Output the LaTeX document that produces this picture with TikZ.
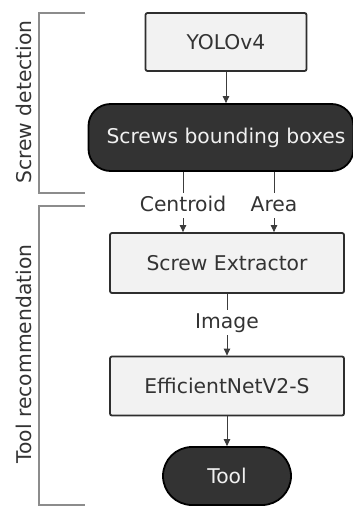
\documentclass[tikz,border=0pt]{standalone}
\usepackage{fontspec}
\setmainfont{DejaVu Sans}
\usetikzlibrary{arrows.meta}

\definecolor{boxfill}{HTML}{F2F2F2}
\definecolor{boxedge}{HTML}{2E2E2E}
\definecolor{darkfill}{HTML}{333333}
\definecolor{inktext}{HTML}{333333}
\definecolor{wiregray}{HTML}{3C3C3C}
\definecolor{bracegray}{HTML}{8C8C8C}

\begin{document}
\begin{tikzpicture}[x=1pt,y=-1pt,
  font=\fontsize{20.3}{24}\selectfont,
  lightbox/.style={draw=boxedge, line width=1.8pt, fill=boxfill, text=inktext,
    rounded corners=2pt, inner sep=0pt},
  darkbox/.style={draw=black, line width=1.8pt, fill=darkfill, text=white!94!black,
    inner sep=0pt},
  wirelabel/.style={text=inktext, text height=15pt, text depth=4pt,
    inner xsep=2pt, inner ysep=3pt, anchor=base},
  flow/.style={draw=wiregray, line width=1pt, -{Triangle[length=7pt,width=6.5pt]}},
  plainwire/.style={draw=wiregray, line width=1pt},
  brace/.style={draw=bracegray, line width=1.1pt},
  sidelabel/.style={rotate=90, text=inktext, inner sep=0pt}]

  \useasboundingbox (0,0) rectangle (353,506);

  % stage boxes
  \node[lightbox, minimum width=161pt, minimum height=58pt] (yolo) at (226,42) {YOLOv4};
  \node[darkbox, rounded corners=22pt, minimum width=265pt, minimum height=67pt]
    (bbox) at (221,137.5) {\hspace*{10pt}Screws bounding boxes};
  \node[lightbox, minimum width=234pt, minimum height=60pt] (extract) at (227,263) {Screw Extractor};
  \node[lightbox, minimum width=234pt, minimum height=59pt] (effnet) at (227,386) {EfficientNetV2-S};
  \node[darkbox, rounded corners=29pt, minimum width=128pt, minimum height=58pt] (tool) at (227,476) {Tool};

  % labels on the connectors
  \node[wirelabel] (centroid) at (183,211) {Centroid};
  \node[wirelabel] (area) at (274,211) {Area};
  \node[wirelabel] (image) at (227,328) {Image};

  % connectors
  \draw[flow] (yolo.south) -- (yolo.south |- bbox.north);
  \draw[plainwire] (centroid |- bbox.south) -- (centroid.north);
  \draw[plainwire] (area |- bbox.south) -- (area.north);
  \draw[flow] (centroid.south) -- (centroid.south |- extract.north);
  \draw[flow] (area.south) -- (area.south |- extract.north);
  \draw[plainwire] (extract.south) -- (image.north);
  \draw[flow] (image.south) -- (effnet.north);
  \draw[flow] (effnet.south) -- (tool.north);

  % stage brackets on the left
  \coordinate (detTop) at (85,13);
  \coordinate (detBot) at (85,193);
  \coordinate (recTop) at (85,206);
  \coordinate (recBot) at (85,505);
  \draw[brace] (detTop) -- ++(-46,0) |- (detBot);
  \draw[brace] (recTop) -- ++(-46,0) |- (recBot);

  \node[sidelabel] (detlabel) at (24,102) {Screw detection};
  \node[sidelabel] (reclabel) at (24,354) {Tool recommendation};
\end{tikzpicture}
\end{document}
